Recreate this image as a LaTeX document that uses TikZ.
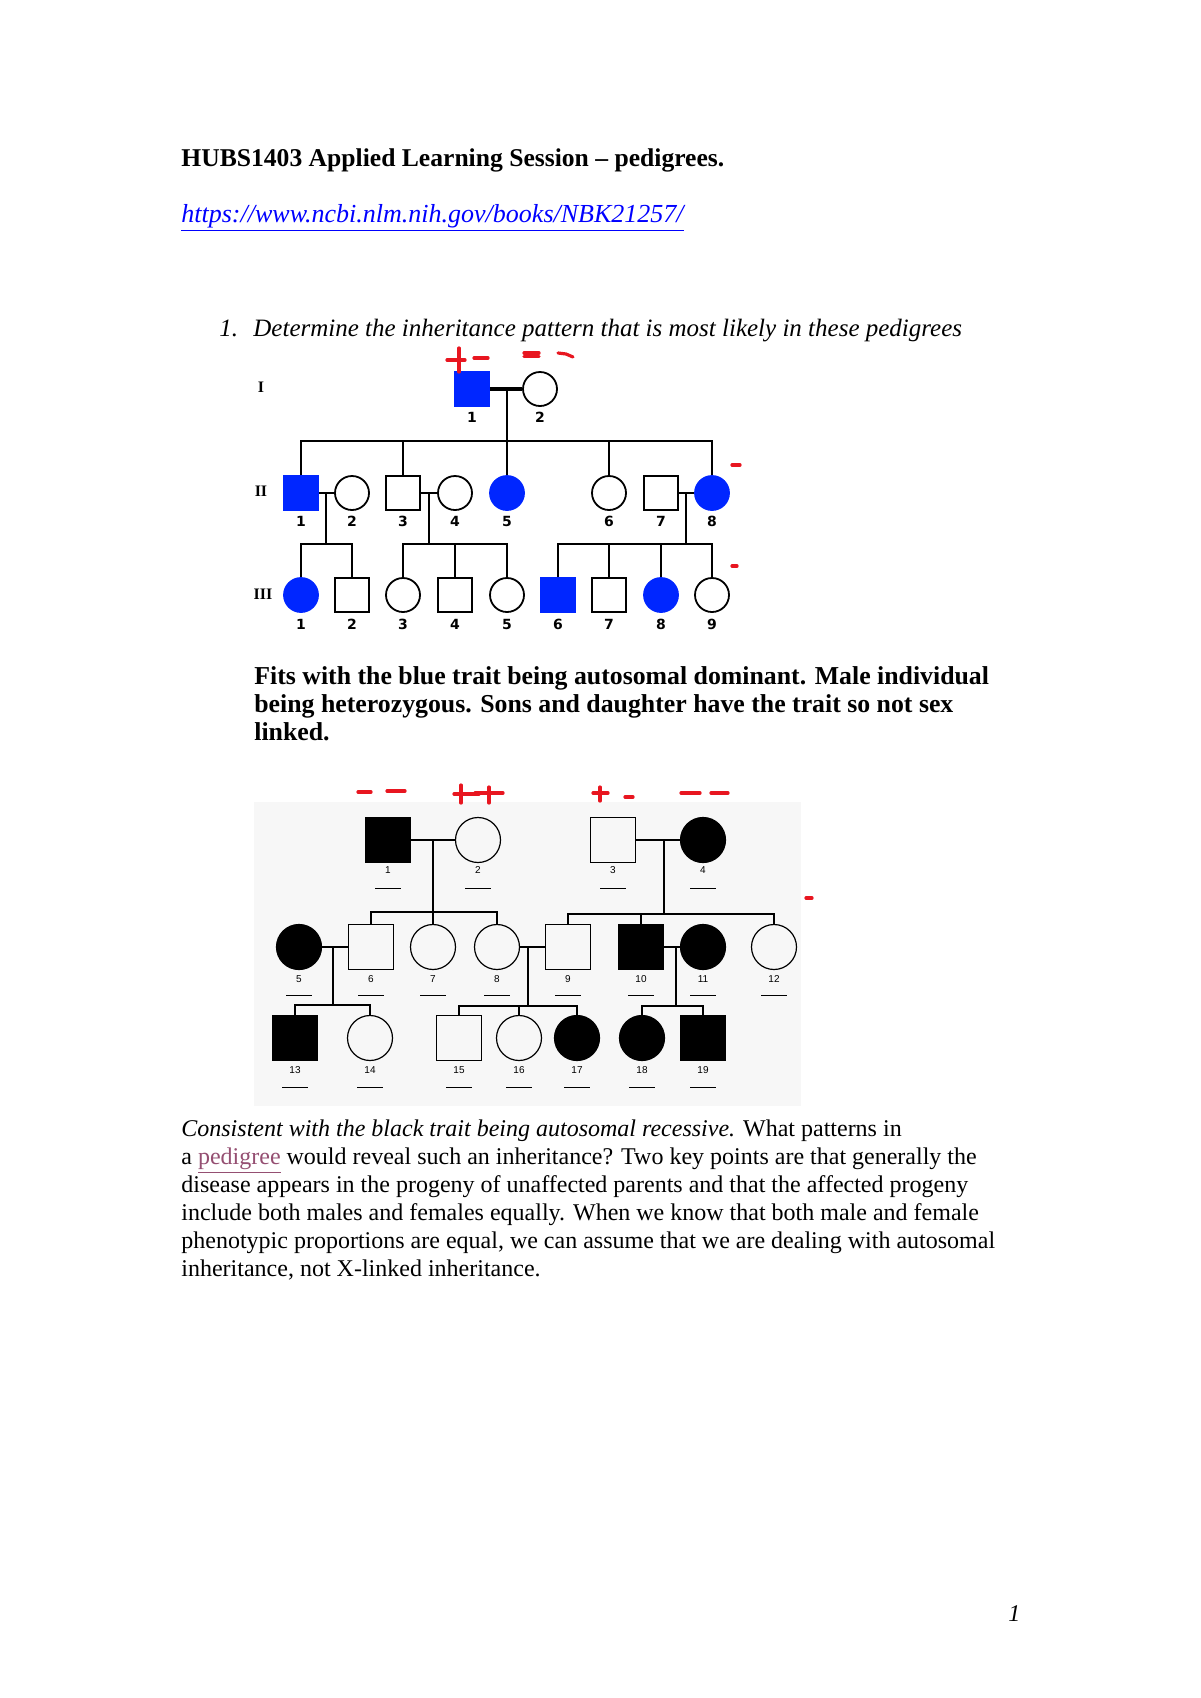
\documentclass[tikz,border=0pt]{standalone}
\usepackage{fontspec}
\setmainfont{Liberation Serif}
\newfontfamily\numfont{DejaVu Sans}
\newfontfamily\scanfont{Liberation Sans}
\usetikzlibrary{calc}
\definecolor{trait}{RGB}{0,38,255}
\definecolor{penred}{RGB}{232,22,32}
\definecolor{linkblue}{RGB}{0,0,255}
\definecolor{visited}{RGB}{149,79,114}
\tikzset{
  male/.style={draw,rectangle,minimum size=17pt,inner sep=0pt,line width=0.9pt},
  female/.style={draw,circle,minimum size=17pt,inner sep=0pt,line width=0.9pt},
  hasit/.style={fill=trait,draw=trait},
  num/.style={font=\numfont\bfseries\fontsize{7}{8}\selectfont,inner sep=0pt},
  gen/.style={font=\bfseries\fontsize{8}{9}\selectfont,inner sep=0pt},
  sq/.style={draw,rectangle,minimum size=22.5pt,inner sep=0pt,line width=0.6pt},
  rd/.style={draw,circle,minimum size=22.5pt,inner sep=0pt,line width=0.6pt},
  dark/.style={fill=black},
  tag/.style={font=\scanfont\fontsize{5}{6}\selectfont,inner sep=0pt},
  hand/.style={penred,line width=1.6pt,line cap=round},
  txt/.style={anchor=base west,inner sep=0pt,font=\fontsize{12}{14}\selectfont},
}
\begin{document}
\begin{tikzpicture}[x=0.5pt,y=-0.5pt]
\useasboundingbox[fill=white] (0,0) rectangle (1200,1698);
%\draw[help lines,step=50] (0,0) grid (1200,1698);

\node[txt,font=\bfseries\fontsize{12.8}{14}\selectfont] (title) at (181,166) {HUBS1403 Applied Learning Session – pedigrees.};
\node[txt,font=\itshape\fontsize{13}{14}\selectfont,text=linkblue] (url) at (181,222) {\underline{https://www.ncbi.nlm.nih.gov/books/NBK21257/}};
\node[txt,font=\itshape\fontsize{12.5}{14}\selectfont] (qnum) at (219,336) {1.};
\node[txt,font=\itshape\fontsize{12.5}{14}\selectfont] (qtext) at (253,336) {Determine the inheritance pattern that is most likely in these pedigrees};

% first pedigree
\node[gen] (g1) at (261,387) {I};
\node[gen] (g2) at (261,491) {II};
\node[gen] (g3) at (263,594) {III};

\node[male,hasit] (a1) at (472,389) {};
\node[female] (a2) at (540,389) {};

\node[male,hasit] (b1) at (301,493) {};
\node[female] (b2) at (352,493) {};
\node[male] (b3) at (403,493) {};
\node[female] (b4) at (455,493) {};
\node[female,hasit] (b5) at (507,493) {};
\node[female] (b6) at (609,493) {};
\node[male] (b7) at (661,493) {};
\node[female,hasit] (b8) at (712,493) {};

\node[female,hasit] (c1) at (301,595) {};
\node[male] (c2) at (352,595) {};
\node[female] (c3) at (403,595) {};
\node[male] (c4) at (455,595) {};
\node[female] (c5) at (507,595) {};
\node[male,hasit] (c6) at (558,595) {};
\node[male] (c7) at (609,595) {};
\node[female,hasit] (c8) at (661,595) {};
\node[female] (c9) at (712,595) {};

\foreach \n in {1,2} \node[num] (na\n) at ($(a\n)+(0,28)$) {\n};
\foreach \n in {1,...,8} \node[num] (nb\n) at ($(b\n)+(0,28)$) {\n};
\foreach \n in {1,...,9} \node[num] (nc\n) at ($(c\n)+(0,29)$) {\n};

\begin{scope}[line width=1pt]
\draw[line width=1.6pt] (a1) -- (a2);
\coordinate (ja) at (507,389);
\coordinate (sa) at (507,441);
\draw (ja) -- (sa);
\draw (b1.north) |- (sa) -| (b8.north);
\draw (b3.north) -- (b3.north |- sa);
\draw (sa) -- (b5);
\draw (b6.north) -- (b6.north |- sa);

\draw (b1) -- (b2);
\coordinate (jb1) at (326,493);
\coordinate (sb1) at (326,544);
\draw (jb1) -- (sb1);
\draw (c1.north) |- (sb1) -| (c2.north);

\draw (b3) -- (b4);
\coordinate (jb2) at (429,493);
\coordinate (sb2) at (429,544);
\draw[line width=1.4pt] (jb2) -- (sb2);
\draw (c3.north) |- (sb2) -| (c5.north);
\draw (c4.north) -- (c4.north |- sb2);

\draw (b7) -- (b8);
\coordinate (jb3) at (686,493);
\coordinate (sb3) at (686,544);
\draw (jb3) -- (sb3);
\draw (c6.north) |- (sb3) -| (c9.north);
\draw (c7.north) -- (c7.north |- sb3);
\draw (c8.north) -- (c8.north |- sb3);
\end{scope}

\draw[hand] (447,360) -- (465,360) (459,348) -- (459,372);
\draw[hand] (474,358) -- (488,358);
\draw[hand] (524,353) -- (539,353) (524,356.5) -- (539,356.5);
\draw[hand] (558,353) -- (566,354) -- (573,357);
\draw[hand] (732,465) -- (740,465);
\draw[hand] (732,566) -- (737,566);

\node[txt,font=\bfseries\fontsize{12.9}{14}\selectfont] (fit1) at (254,684) {Fits with the blue trait being autosomal dominant. Male individual};
\node[txt,font=\bfseries\fontsize{12.9}{14}\selectfont] (fit2) at (254,712) {being heterozygous. Sons and daughter have the trait so not sex};
\node[txt,font=\bfseries\fontsize{12.9}{14}\selectfont] (fit3) at (254,740) {linked.};

% second pedigree (scanned)
\fill[black!3] (254,802) rectangle (801,1106);

\node[sq,dark] (p1) at (388,840) {};
\node[rd] (p2) at (478,840) {};
\node[sq] (p3) at (613,840) {};
\node[rd,dark] (p4) at (703,840) {};

\node[rd,dark] (p5) at (299,947) {};
\node[sq] (p6) at (371,947) {};
\node[rd] (p7) at (433,947) {};
\node[rd] (p8) at (497,947) {};
\node[sq] (p9) at (568,947) {};
\node[sq,dark] (p10) at (641,947) {};
\node[rd,dark] (p11) at (703,947) {};
\node[rd] (p12) at (774,947) {};

\node[sq,dark] (p13) at (295,1038) {};
\node[rd] (p14) at (370,1038) {};
\node[sq] (p15) at (459,1038) {};
\node[rd] (p16) at (519,1038) {};
\node[rd,dark] (p17) at (577,1038) {};
\node[rd,dark] (p18) at (642,1038) {};
\node[sq,dark] (p19) at (703,1038) {};

\foreach \n in {1,...,4} {
  \node[tag] (t\n) at ($(p\n)+(0,30)$) {\n};
  \draw[line width=0.5pt] ($(t\n)+(-13,18)$) -- ($(t\n)+(13,18)$);
}
\foreach \n in {5,...,12} {
  \node[tag] (t\n) at ($(p\n)+(0,32)$) {\n};
  \draw[line width=0.5pt] ($(t\n)+(-13,16)$) -- ($(t\n)+(13,16)$);
}
\foreach \n in {13,...,19} {
  \node[tag] (t\n) at ($(p\n)+(0,32)$) {\n};
  \draw[line width=0.5pt] ($(t\n)+(-13,17)$) -- ($(t\n)+(13,17)$);
}

\begin{scope}[line width=0.6pt]
\draw (p1) -- (p2);
\coordinate (j1) at (433,840);
\coordinate (s1) at (433,912);
\draw (j1) -- (p7);
\draw (p6.north) |- (s1) -| (p8.north);

\draw (p3) -- (p4);
\coordinate (j2) at (664,840);
\coordinate (s2) at (664,914);
\draw (j2) -- (s2);
\draw (p9.north) |- (s2) -| (p12.north);
\draw (p10.north) -- (p10.north |- s2);

\draw (p5) -- (p6);
\coordinate (j3) at (333,947);
\coordinate (s3) at (333,1005);
\draw (j3) -- (s3);
\draw (p13.north) |- (s3) -| (p14.north);

\draw (p8) -- (p9);
\coordinate (j4) at (528,947);
\coordinate (s4) at (528,1006);
\draw (j4) -- (s4);
\draw (p15.north) |- (s4) -| (p17.north);
\draw (p16.north) -- (p16.north |- s4);

\draw (p10) -- (p11);
\coordinate (j5) at (676,947);
\coordinate (s5) at (676,1006);
\draw (j5) -- (s5);
\draw (p18.north) |- (s5) -| (p19.north);
\end{scope}

\draw[hand] (358,792) -- (371,792) (387,791) -- (405,791);
\draw[hand] (454,794) -- (479,794) (461,785) -- (461,803);
\draw[hand] (475,793) -- (503,793) (489,787) -- (489,803);
\draw[hand] (593,793) -- (608,793) (600,787) -- (600,801);
\draw[hand] (625,797) -- (633,797);
\draw[hand] (681,793) -- (700,793) (711,793) -- (728,793);
\draw[hand] (806,898) -- (812,898);

\node[txt] (ex1) at (181,1136) {\textit{Consistent with the black trait being autosomal recessive.} What patterns in};
\node[txt] (ex2) at (181,1164) {a \textcolor{visited}{\underline{pedigree}} would reveal such an inheritance? Two key points are that generally the};
\node[txt] (ex3) at (181,1192) {disease appears in the progeny of unaffected parents and that the affected progeny};
\node[txt] (ex4) at (181,1220) {include both males and females equally. When we know that both male and female};
\node[txt] (ex5) at (181,1248) {phenotypic proportions are equal, we can assume that we are dealing with autosomal};
\node[txt] (ex6) at (181,1276) {inheritance, not X-linked inheritance.};

\node[txt,font=\itshape\fontsize{12}{14}\selectfont] (page) at (1008,1621) {1};
\end{tikzpicture}
\end{document}
